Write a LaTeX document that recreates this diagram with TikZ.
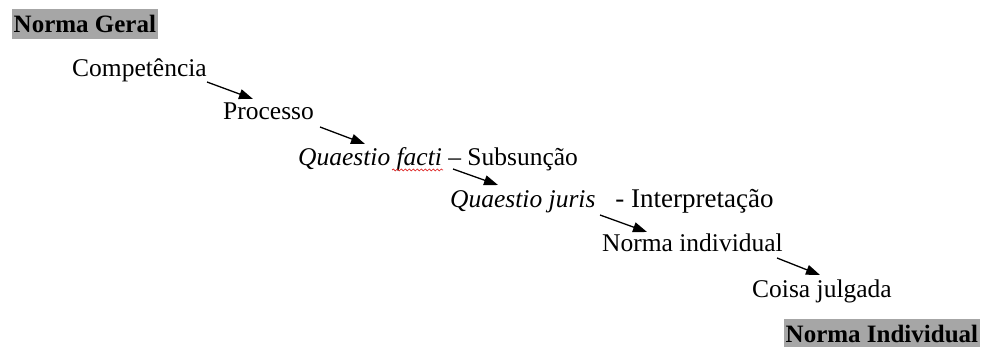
\documentclass[tikz,border=0pt]{standalone}
\usepackage{fontspec}
\setmainfont{Liberation Serif}
\usetikzlibrary{arrows.meta,decorations.pathmorphing}
\definecolor{hl}{RGB}{166,166,166}
\definecolor{spell}{RGB}{220,30,30}
\tikzset{
  txt/.style={anchor=base west, inner sep=0pt, font=\fontsize{25.5}{30}\selectfont},
  headg/.style={anchor=base west, fill=hl, inner xsep=1.5pt, inner ysep=1pt, font=\bfseries\fontsize{25}{30}\selectfont},
  flow/.style={line width=1.3pt, -{Triangle[length=14pt,width=10pt]}},
}
\begin{document}
\begin{tikzpicture}[x=1pt,y=-1pt]
\useasboundingbox (0,0) rectangle (982,347);
\node[headg, text height=23pt, text depth=5pt] (ng) at (12,33) {Norma Geral};
\node[txt] (comp) at (72,77) {Competência};
\node[txt] (proc) at (223,120) {Processo};
\node[txt] (qf) at (298,166) {\textit{Quaestio facti} – Subsunção};
\node[txt] (qj) at (450,208) {\textit{Quaestio juris}\hspace{20pt}{\fontsize{27}{30}\selectfont - Interpretação}};
\node[txt] (ni) at (602,252) {Norma individual};
\node[txt] (cj) at (752,298) {Coisa julgada};
\node[headg, text height=22pt, text depth=4pt] (nind) at (784,342) {Norma Individual};
\draw[flow] ([shift={(135,5)}]comp.base west) -- ([shift={(30,-21)}]proc.base west);
\draw[flow] ([shift={(97,7)}]proc.base west) -- ([shift={(67,-22)}]qf.base west);
\draw[flow] ([shift={(155,3)}]qf.base west) -- ([shift={(48,-23)}]qj.base west);
\draw[flow] ([shift={(150,7)}]qj.base west) -- ([shift={(45,-20)}]ni.base west);
\draw[flow] ([shift={(175,6)}]ni.base west) -- ([shift={(68,-23)}]cj.base west);
\draw[spell, line width=0.7pt, decorate, decoration={snake, amplitude=1pt, segment length=4pt}] ([shift={(94,4)}]qf.base west) -- ([shift={(145,4)}]qf.base west);
\end{tikzpicture}
\end{document}
